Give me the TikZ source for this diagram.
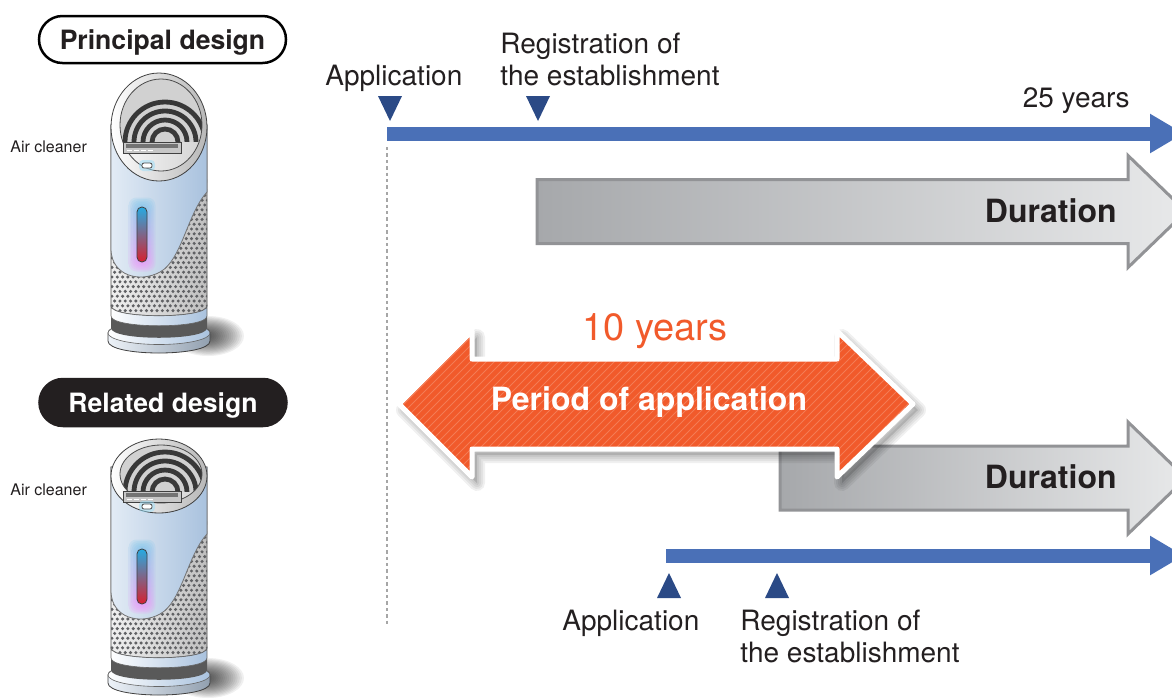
\documentclass[tikz,border=0pt]{standalone}
\usepackage{fontspec}
\setmainfont{TeX Gyre Heros}
\usetikzlibrary{arrows.meta}
\definecolor{tblue}{HTML}{4A70B7}
\definecolor{tri}{HTML}{2B4A86}
\definecolor{orng}{HTML}{F15A2B}
\definecolor{stripec}{HTML}{F47C55}
\definecolor{gl}{HTML}{A6A8AB}
\definecolor{gr}{HTML}{E8E9EA}
\definecolor{gb}{HTML}{929396}
\definecolor{ink}{HTML}{231F20}
\definecolor{bibL}{HTML}{E2EBF5}
\definecolor{bibR}{HTML}{A9C2DE}
\definecolor{thtop}{HTML}{27AAE1}
\definecolor{thmid}{HTML}{5B6FB5}
\definecolor{thbot}{HTML}{D7202F}
\definecolor{dotc}{HTML}{606164}
\tikzset{
  lbl/.style={font=\fontsize{14}{16}\selectfont, text=ink, inner sep=0pt, align=left},
  smalllbl/.style={font=\fontsize{8}{9}\selectfont, text=ink, inner sep=0pt},
  dur/.style={font=\bfseries\fontsize{16}{18}\selectfont, text=ink, inner sep=0pt},
  pill/.style={minimum width=123.5pt, minimum height=23.5pt, rounded corners=11.75pt, line width=1.25pt, inner sep=0pt, text depth=0pt, font=\bfseries\fontsize{13.3}{15}\selectfont},
  marker/.style={fill=tri},
  timeline/.style={draw=tblue, line width=7pt, -{Triangle[length=17pt, width=18.5pt]}},
  grayarrow/.style={draw=gb, line width=1.5pt, left color=gl, right color=gr, line join=miter},
  dotline/.style={draw=black!35, line width=1.1pt, dash pattern=on 1.7pt off 1.5pt},
}
\newcommand\aircleaner[6]{%
\begin{scope}[shift={(0,#1)}]
  \foreach \k in {0,...,15}
    \fill[black, opacity=0.06] (208,336) ellipse [x radius={36-2.1*\k}, y radius={20-1.1*\k}];
  \path[draw=black!75, line width=0.4pt, left color=bibL!60!white, right color=bibR!70!black!80] (108,333) -- (108,341) .. controls (108,357) and (210,357) .. (210,341) -- (210,333) .. controls (210,318) and (108,318) .. (108,333) -- cycle;
  \path[draw=black!60, line width=0.3pt, left color=white, right color=bibR] (159,333) ellipse [x radius=51, y radius=11.5];
  \fill[black!65] (111,316) -- (111,328) .. controls (111,341) and (207,341) .. (207,328) -- (207,316) -- cycle;
  \path[draw=black!70, line width=0.4pt, left color=black!6, right color=black!25] (111,125) -- (111,306) .. controls (111,319) and (207,319) .. (207,306) -- (207,125) -- cycle;
  \begin{scope}
    \clip (111,125) -- (111,306) .. controls (111,319) and (207,319) .. (207,306) -- (207,125) -- cycle;
    \foreach \r in {0,...,27} \foreach \c in {0,...,18}
      \fill[dotc] ({112+\c*5.3+mod(\r,2)*2.65},{181+\r*4.8}) circle (1.7);
  \end{scope}
  \path[draw=black!60, line width=0.3pt, left color=white, right color=bibR] (111,306) .. controls (111,319) and (207,319) .. (207,306) -- (207,316) .. controls (207,329) and (111,329) .. (111,316) -- cycle;
  \path[draw=black!55, line width=0.4pt, left color=bibL, right color=bibR] (111,125) -- (111,250) .. controls (112,276) and (140,283) .. (160,272) .. controls (182,260) and (187,214) .. (207,192) -- (207,125) -- cycle;
  \foreach \k in {0,...,5}
    \shade[top color=thtop!70!white, bottom color=magenta!50!white, opacity=0.15, rounded corners=4pt] ({136-1.5*\k},{205-1.5*\k}) rectangle ({148+1.5*\k},{264+1.5*\k});
  \path[draw=black!75, line width=0.4pt, top color=thtop, middle color=thmid, bottom color=thbot, rounded corners=2.4pt] (137,207) rectangle (147,262);
  \path[draw=black!75, line width=0.4pt, left color=white, right color=black!28] (159,#2) ellipse [x radius=48, y radius=#3];
  \begin{scope}
    \clip (161,{#2-2}) ellipse [x radius=41, y radius={#3-8}];
    \fill[black!18] (100,0) rectangle (220,400);
    \begin{scope}
      \clip (100,0) rectangle (220,#4);
      \foreach \rr in {40,31,22,13} \draw[black!78, line width=2.4pt] (165,#4) circle (\rr);
    \end{scope}
    \path[left color=white, right color=black!20] (100,#4) rectangle (220,400);
  \end{scope}
  \draw[black!70, line width=0.4pt] (161,{#2-2}) ellipse [x radius=41, y radius={#3-8}];
  \path[draw=black!75, line width=0.4pt, fill=black!22] (123,#5) rectangle (181,{#5+11});
  \fill[black!55] (126,{#5+2}) rectangle (178,{#5+6});
  \foreach \d in {0,...,3} \draw[white, line width=0.8pt] ({127+\d*7},{#5+8.5}) -- ({132+\d*7},{#5+8.5});
  \fill[cyan!40, opacity=0.5, rounded corners=2pt] (139,{#6-3}) rectangle (155,{#6+8});
  \path[draw=black!70, line width=0.4pt, fill=white, rounded corners=1pt] (142,#6) rectangle (152,{#6+5});
\end{scope}}
\newcommand\grayarrow[2]{%
  \path[grayarrow] (#1,{#2-32}) -- (1128,{#2-32}) -- (1128,{#2-56}) -- (1186,#2) -- (1128,{#2+56}) -- (1128,{#2+32}) -- (#1,{#2+32}) -- cycle;}
\newcommand\orshape[1]{%
  \path[#1] (399,404) -- (472,331) -- (472,359) -- (837,359) -- (837,331) -- (913,404) -- (837,477) -- (837,449) -- (472,449) -- (472,477) -- cycle;}
\begin{document}
\begin{tikzpicture}[x=0.5pt, y=-0.5pt]
\useasboundingbox (0,0) rectangle (1172,698);
\clip (0,0) rectangle (1172,698);

% dotted guide
\coordinate (g1) at (387,147);
\coordinate (g2) at (387,625);
\draw[dotline] (g1) -- (g2);

% top timeline
\coordinate (t1s) at (387,133.5);
\coordinate (t1e) at (1184,133.5);
\draw[timeline] (t1s) -- (t1e);

% gray duration arrows
\grayarrow{537}{211.5}
\grayarrow{780}{478}

% orange double arrow
\begin{scope}[shift={(5,6)}]
  \foreach \w in {8,6,4,2} {\orshape{draw=black, line width=\w pt, opacity=0.06, line join=round}}
  \orshape{fill=black, opacity=0.12}
\end{scope}
\orshape{fill=orng}
\begin{scope}
  \orshape{clip}
  \foreach \s in {0,...,95} \draw[stripec, line width=0.4pt] ({180+\s*8},500) -- ({380+\s*8},300);
\end{scope}
\orshape{draw=white, line width=2.5pt, line join=round}

% bottom timeline
\coordinate (t2s) at (666,555.5);
\coordinate (t2e) at (1184,555.5);
\draw[timeline] (t2s) -- (t2e);

% markers
\fill[marker] (378,96) -- (402,96) -- (390,121) -- cycle;
\fill[marker] (526,96) -- (550,96) -- (538,121) -- cycle;
\fill[marker] (657,598) -- (681,598) -- (669,573) -- cycle;
\fill[marker] (765,598) -- (789,598) -- (777,573) -- cycle;

% texts
\node[lbl, anchor=base west] (app1) at (325,85) {Application};
\node[lbl, anchor=north west] (reg1) at (500,32.6) {Registration of\\the establishment};
\node[lbl, anchor=base east] (y25) at (1130,107) {25 years};
\node[dur, anchor=base east] (dur1) at (1117,222) {Duration};
\node[dur, anchor=base east] (dur2) at (1117,488) {Duration};
\node[font=\fontsize{19}{21}\selectfont, text=orng, inner sep=0pt, anchor=base] (y10) at (655,340) {10 years};
\node[font=\bfseries\fontsize{16}{18}\selectfont, text=white, inner sep=0pt, anchor=base] (period) at (649,410) {Period of application};
\node[lbl, anchor=base west] (app2) at (562,630) {Application};
\node[lbl, anchor=north west] (reg2) at (740,609.6) {Registration of\\the establishment};

% left column
\node[pill, draw=black, fill=white, text=ink] (princ) at (162.5,39.5) {Principal design};
\node[pill, draw=ink, fill=ink, text=white] (rel) at (163,402.5) {Related design};
\aircleaner{0}{127}{54}{142}{142}{163}
\aircleaner{342}{134}{37}{150}{149}{162}
\node[smalllbl, anchor=base west] (ac1) at (10,152) {Air cleaner};
\node[smalllbl, anchor=base west] (ac2) at (10,495) {Air cleaner};
\end{tikzpicture}
\end{document}
